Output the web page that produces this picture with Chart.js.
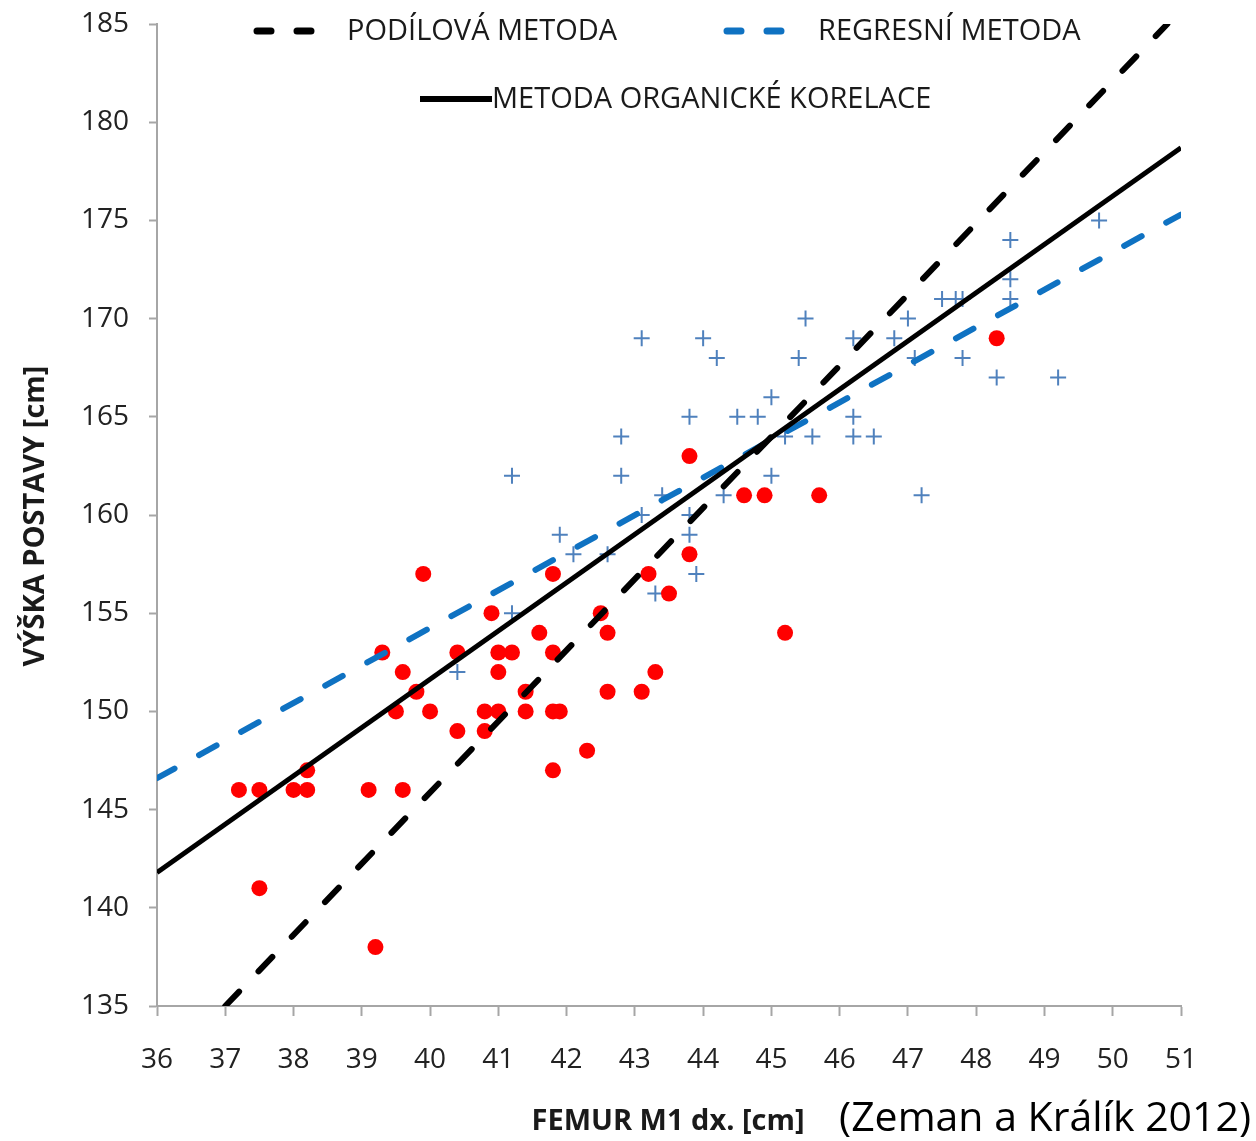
<!DOCTYPE html>
<html>
<head>
<meta charset="utf-8">
<title>Femur vs. výška postavy</title>
<script src="https://cdn.jsdelivr.net/npm/chart.js@4.4.1/dist/chart.umd.min.js"></script>
<style>
  html, body { margin: 0; padding: 0; background: #fff; }
  #chart { display: block; }
</style>
</head>
<body>
<canvas id="chart" width="1256" height="1141"></canvas>
<script>
  // ========================================
  // Data
  // ========================================

  // red dots
  const redX = [37.2, 37.5, 37.5, 38.0, 38.2, 38.2, 39.1, 39.2, 39.3, 39.5, 39.6, 39.6, 39.8, 39.9, 40.0,
    40.4, 40.4, 40.8, 40.8, 40.9, 41.0, 41.0, 41.0, 41.2, 41.4, 41.4, 41.6, 41.8, 41.8, 41.8, 41.9, 41.8,
    42.3, 42.5, 42.6, 42.6, 43.1, 43.2, 43.3, 43.5, 43.8, 43.8, 44.6, 44.9, 45.2, 45.7, 48.3];
  const redY = [146, 146, 141, 146, 146, 147, 146, 138, 153, 150, 152, 146, 151, 157, 150,
    153, 149, 149, 150, 155, 153, 152, 150, 153, 151, 150, 154, 157, 153, 150, 150, 147,
    148, 155, 154, 151, 151, 157, 152, 156, 163, 158, 161, 161, 154, 161, 169];

  // blue crosses
  const blueX = [40.4, 41.2, 41.2, 41.9, 42.1, 42.6, 42.8, 42.8, 43.1, 43.1, 43.3, 43.4, 43.8, 43.8, 43.8,
    43.9, 44.0, 44.2, 44.3, 44.5, 44.8, 45.0, 45.0, 45.2, 45.4, 45.5, 45.6, 46.2, 46.2, 46.2, 46.5,
    46.8, 47.0, 47.1, 47.2, 47.5, 47.7, 47.8, 47.8, 48.3, 48.5, 48.5, 48.5, 49.2, 49.8];
  const blueY = [152, 155, 162, 159, 158, 158, 162, 164, 160, 169, 156, 161, 165, 160, 159,
    157, 169, 168, 161, 165, 165, 166, 162, 164, 168, 170, 164, 169, 165, 164, 164,
    169, 170, 168, 161, 171, 171, 171, 168, 167, 174, 172, 171, 167, 175];

  // method lines, end points where they meet the plot frame
  const podilX = [37.0, 50.8];
  const podilY = [135.0, 185.0];
  const regresX = [36, 51];
  const regresY = [146.6, 175.3];
  const organX = [36, 51];
  const organY = [141.8, 178.7];

  const xTicks = [36, 51, 1];
  const yTicks = [135, 185, 5];

  const legendLabels = ['PODÍLOVÁ METODA', 'REGRESNÍ METODA', 'METODA ORGANICKÉ KORELACE'];
  const xTitle = 'FEMUR M1 dx. [cm]';
  const yTitle = 'VÝŠKA POSTAVY [cm]';
  const citation = '(Zeman a Králík 2012)';

  // ========================================
  // Helpers
  // ========================================

  const FONT = '"Open Sans", "Noto Sans", sans-serif';
  const AXIS_GREY = '#a6a6a6';
  const BLUE_LINE = '#0f72c2';
  const toPoints = (xs, ys) => xs.map((x, i) => ({ x: x, y: ys[i] }));

  // custom legend + titles drawn straight on the canvas
  const decorations = {
    id: 'decorations',
    afterDraw(chart) {
      const ctx = chart.ctx;
      ctx.save();

      // legend samples
      ctx.lineCap = 'round';
      ctx.lineWidth = 7;
      ctx.strokeStyle = '#000';
      ctx.setLineDash([14, 26]);
      ctx.beginPath(); ctx.moveTo(257, 31); ctx.lineTo(318, 31); ctx.stroke();
      ctx.strokeStyle = BLUE_LINE;
      ctx.beginPath(); ctx.moveTo(727, 31); ctx.lineTo(788, 31); ctx.stroke();
      ctx.setLineDash([]);
      ctx.lineCap = 'butt';
      ctx.lineWidth = 6;
      ctx.strokeStyle = '#000';
      ctx.beginPath(); ctx.moveTo(420, 99); ctx.lineTo(492, 99); ctx.stroke();

      ctx.fillStyle = '#1a1a1a';
      ctx.textBaseline = 'middle';
      ctx.textAlign = 'left';
      ctx.font = '29px ' + FONT;
      ctx.fillText(legendLabels[0], 347, 32);
      ctx.fillText(legendLabels[1], 818, 32);
      ctx.fillText(legendLabels[2], 492, 100);

      // axis titles
      ctx.font = 'bold 29px ' + FONT;
      ctx.textAlign = 'center';
      ctx.fillText(xTitle, 668, 1122);
      ctx.save();
      ctx.translate(36, 516);
      ctx.rotate(-Math.PI / 2);
      ctx.fillText(yTitle, 0, 0);
      ctx.restore();

      // source note
      ctx.fillStyle = '#000';
      ctx.font = '41px ' + FONT;
      ctx.textAlign = 'right';
      ctx.fillText(citation, 1251, 1119);

      ctx.restore();
    }
  };

  // ========================================
  // Chart
  // ========================================

  const ctx = document.getElementById('chart').getContext('2d');

  new Chart(ctx, {
    type: 'scatter',
    data: {
      datasets: [
        {
          label: legendLabels[2],
          type: 'line',
          data: toPoints(organX, organY),
          borderColor: '#000',
          borderWidth: 5,
          pointRadius: 0,
          fill: false,
          order: 0
        },
        {
          label: legendLabels[0],
          type: 'line',
          data: toPoints(podilX, podilY),
          borderColor: '#000',
          borderWidth: 6,
          borderDash: [20, 28],
          borderCapStyle: 'round',
          pointRadius: 0,
          fill: false,
          order: 0
        },
        {
          label: legendLabels[1],
          type: 'line',
          data: toPoints(regresX, regresY),
          borderColor: BLUE_LINE,
          borderWidth: 6,
          borderDash: [20, 28],
          borderCapStyle: 'round',
          pointRadius: 0,
          fill: false,
          order: 0
        },
        {
          label: 'muži',
          data: toPoints(blueX, blueY),
          pointStyle: 'cross',
          pointRadius: 8,
          borderWidth: 2,
          borderColor: '#4f81bd',
          backgroundColor: '#4f81bd',
          order: 2
        },
        {
          label: 'ženy',
          data: toPoints(redX, redY),
          pointStyle: 'circle',
          pointRadius: 8,
          borderWidth: 0,
          backgroundColor: '#ff0000',
          borderColor: '#ff0000',
          order: 1
        }
      ]
    },
    options: {
      responsive: false,
      animation: false,
      events: [],
      layout: {
        padding: { top: 24, right: 75, left: 0, bottom: 0 }
      },
      plugins: {
        legend: { display: false },
        tooltip: { enabled: false }
      },
      scales: {
        x: {
          type: 'linear',
          min: xTicks[0],
          max: xTicks[1],
          ticks: {
            stepSize: xTicks[2],
            color: '#222',
            font: { family: FONT, size: 28 },
            padding: 27,
            maxRotation: 0
          },
          grid: {
            drawOnChartArea: false,
            drawTicks: true,
            tickLength: 10,
            tickWidth: 2,
            tickColor: AXIS_GREY
          },
          border: { color: AXIS_GREY, width: 2 },
          afterFit(scale) {
            scale.height = 135;
            scale.paddingLeft = 0;
            scale.paddingRight = 0;
          }
        },
        y: {
          type: 'linear',
          min: yTicks[0],
          max: yTicks[1],
          ticks: {
            stepSize: yTicks[2],
            color: '#222',
            font: { family: FONT, size: 28 },
            padding: 20
          },
          grid: {
            drawOnChartArea: false,
            drawTicks: true,
            tickLength: 8,
            tickWidth: 2,
            tickColor: AXIS_GREY
          },
          border: { color: AXIS_GREY, width: 2 },
          afterFit(scale) {
            scale.width = 157;
            scale.paddingTop = 0;
            scale.paddingBottom = 0;
          }
        }
      }
    },
    plugins: [decorations]
  });
</script>
</body>
</html>
